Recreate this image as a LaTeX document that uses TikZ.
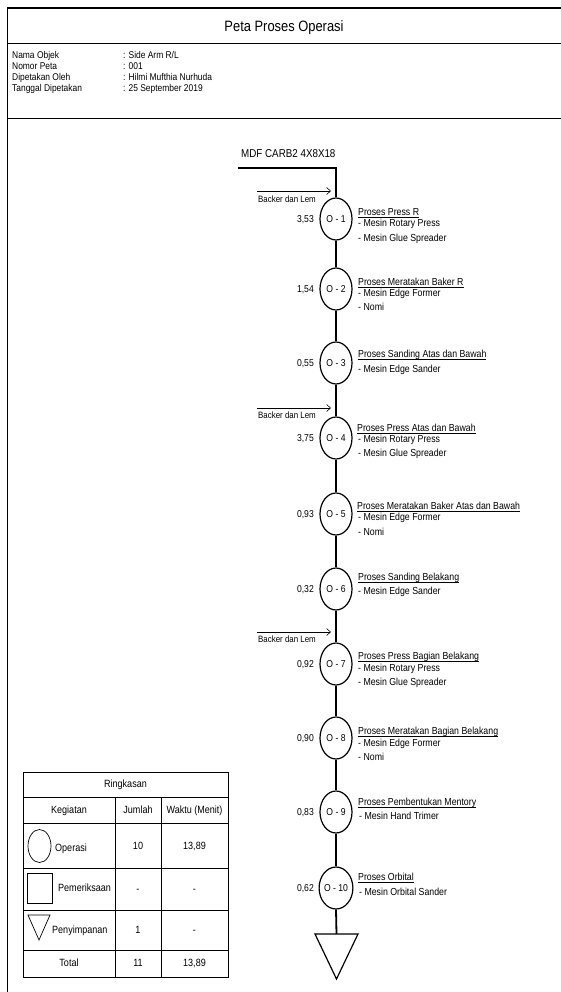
\documentclass[tikz,border=0pt]{standalone}
\usepackage{fontspec}
\setmainfont{Liberation Sans}[FakeStretch=0.86]
\usetikzlibrary{shapes.geometric,arrows.meta}
\begin{document}
\begin{tikzpicture}[x=1pt,y=-1pt,
  frame/.style={line width=0.8pt},
  op/.style={ellipse,draw,line width=1.2pt,minimum width=32pt,minimum height=42pt,inner sep=0pt,font=\fontsize{10}{12}\selectfont},
  flow/.style={line width=1.8pt},
  feed/.style={line width=0.6pt,-{Straight Barb[length=4pt,width=7pt]}},
  hdr/.style={anchor=base west,inner sep=0pt,yshift=-3.5pt,font=\fontsize{9.8}{11}\selectfont},
  ptxt/.style={anchor=base west,inner sep=0pt,yshift=-3.6pt,font=\fontsize{10.2}{12}\selectfont},
  tlab/.style={anchor=base east,inner sep=0pt,yshift=-3.6pt,font=\fontsize{10}{12}\selectfont},
  btxt/.style={anchor=base west,inner sep=0pt,yshift=-3.3pt,font=\fontsize{9.2}{11}\selectfont},
  cell/.style={anchor=base,inner sep=0pt,yshift=-3.8pt,font=\fontsize{10.5}{12}\selectfont},
  tab/.style={line width=0.7pt}]
\useasboundingbox (0,0) rectangle (561,992);
% frame
\draw[frame] (7,992) -- (7,8) -- (561,8);
\draw[line width=1pt] (7,8) -- (561,8);
\draw[line width=1pt] (7,44) -- (561,44);
\draw[frame] (7,118) -- (561,118);
\node[anchor=base,inner sep=0pt,yshift=-5.4pt,font=\fontsize{15}{18}\selectfont] (title) at (284,26) {Peta Proses Operasi};
% header
\node[hdr] (h1) at (12,55) {Nama Objek};
\node[hdr] (h2) at (12,66) {Nomor Peta};
\node[hdr] (h3) at (12,77) {Dipetakan Oleh};
\node[hdr] (h4) at (12,88) {Tanggal Dipetakan};
\node[hdr] (v1) at (123,55) {: Side Arm R/L};
\node[hdr] (v2) at (123,66) {: 001};
\node[hdr] (v3) at (123,77) {: Hilmi Mufthia Nurhuda};
\node[hdr] (v4) at (123,88) {: 25 September 2019};
% start material
\node[anchor=base west,inner sep=0pt,yshift=-4.1pt,font=\fontsize{11.4}{13}\selectfont] (mdf) at (241,153) {MDF CARB2 4X8X18};
\coordinate (start) at (238,168);
% operations
\node[op] (o1) at (336,219) {O - 1};
\node[op] (o2) at (336,289) {O - 2};
\node[op] (o3) at (336,363) {O - 3};
\node[op] (o4) at (336,438) {O - 4};
\node[op] (o5) at (336,514) {O - 5};
\node[op] (o6) at (336,589) {O - 6};
\node[op] (o7) at (336,664) {O - 7};
\node[op] (o8) at (336,738) {O - 8};
\node[op] (o9) at (336,812) {O - 9};
\node[op] (o10) at (336,888) {O - 10};
% storage triangle
\coordinate (st) at (336.5,934);
\coordinate (stl) at (315,934);
\coordinate (str) at (358,934);
\coordinate (stb) at (336.5,979);
\draw[line width=1.2pt,line join=miter] (stl) -- (str) -- (stb) -- cycle;
% flow lines
\draw[flow] (start) -| (o1.north);
\draw[flow] (o1) -- (o2);
\draw[flow] (o2) -- (o3);
\draw[flow] (o3) -- (o4);
\draw[flow] (o4) -- (o5);
\draw[flow] (o5) -- (o6);
\draw[flow] (o6) -- (o7);
\draw[flow] (o7) -- (o8);
\draw[flow] (o8) -- (o9);
\draw[flow] (o9) -- (o10);
\draw[flow] (o10.south) -- (st);
% feeds
\coordinate (b1s) at (257,191); \coordinate (b1e) at (331,191);
\coordinate (b2s) at (257,408); \coordinate (b2e) at (331,408);
\coordinate (b3s) at (257,632); \coordinate (b3e) at (331,632);
\draw[feed] (b1s) -- (b1e);
\draw[feed] (b2s) -- (b2e);
\draw[feed] (b3s) -- (b3e);
\node[btxt] (bl1) at (258,199) {Backer dan Lem};
\node[btxt] (bl2) at (258,415) {Backer dan Lem};
\node[btxt] (bl3) at (258,639) {Backer dan Lem};
% times
\node[tlab] (t1) at (314,219) {3,53};
\node[tlab] (t2) at (314,289) {1,54};
\node[tlab] (t3) at (314,363) {0,55};
\node[tlab] (t4) at (314,438) {3,75};
\node[tlab] (t5) at (314,514) {0,93};
\node[tlab] (t6) at (314,589) {0,32};
\node[tlab] (t7) at (314,664) {0,92};
\node[tlab] (t8) at (314,738) {0,90};
\node[tlab] (t9) at (314,812) {0,83};
\node[tlab] (t10) at (314,888) {0,62};
% descriptions
\node[ptxt] (p1) at (358,212) {\underline{\smash{Proses Press R}}};
\node[ptxt] (p1a) at (358,223) {- Mesin Rotary Press};
\node[ptxt] (p1b) at (358,238) {- Mesin Glue Spreader};
\node[ptxt] (p2) at (358,282) {\underline{\smash{Proses Meratakan Baker R}}};
\node[ptxt] (p2a) at (358,293) {- Mesin Edge Former};
\node[ptxt] (p2b) at (358,307) {- Nomi};
\node[ptxt] (p3) at (358,354) {\underline{\smash{Proses Sanding Atas dan Bawah}}};
\node[ptxt] (p3a) at (358,369) {- Mesin Edge Sander};
\node[ptxt] (p4) at (357,428) {\underline{\smash{Proses Press Atas dan Bawah}}};
\node[ptxt] (p4a) at (358,439) {- Mesin Rotary Press};
\node[ptxt] (p4b) at (358,453) {- Mesin Glue Spreader};
\node[ptxt] (p5) at (357,506) {\underline{\smash{Proses Meratakan Baker Atas dan Bawah}}};
\node[ptxt] (p5a) at (358,517) {- Mesin Edge Former};
\node[ptxt] (p5b) at (358,532) {- Nomi};
\node[ptxt] (p6) at (358,577) {\underline{\smash{Proses Sanding Belakang}}};
\node[ptxt] (p6a) at (358,591) {- Mesin Edge Sander};
\node[ptxt] (p7) at (358,656) {\underline{\smash{Proses Press Bagian Belakang}}};
\node[ptxt] (p7a) at (358,668) {- Mesin Rotary Press};
\node[ptxt] (p7b) at (358,682) {- Mesin Glue Spreader};
\node[ptxt] (p8) at (358,731) {\underline{\smash{Proses Meratakan Bagian Belakang}}};
\node[ptxt] (p8a) at (358,743) {- Mesin Edge Former};
\node[ptxt] (p8b) at (358,757) {- Nomi};
\node[ptxt] (p9) at (358,802) {\underline{\smash{Proses Pembentukan Mentory}}};
\node[ptxt] (p9a) at (359,816) {- Mesin Hand Trimer};
\node[ptxt] (p10) at (358,877) {\underline{\smash{Proses Orbital}}};
\node[ptxt] (p10a) at (359,892) {- Mesin Orbital Sander};
% summary table
\draw[tab] (23,772) rectangle (228,977);
\draw[tab] (23,797) -- (228,797);
\draw[tab] (23,823) -- (228,823);
\draw[tab] (23,868) -- (228,868);
\draw[tab] (23,910) -- (228,910);
\draw[tab] (23,950) -- (228,950);
\draw[tab] (115,797) -- (115,977);
\draw[tab] (161,797) -- (161,977);
\node[cell] (r0) at (125.5,784) {Ringkasan};
\node[cell] (k0) at (69,810) {Kegiatan};
\node[cell] (j0) at (138,810) {Jumlah};
\node[cell] (w0) at (194.5,810) {Waktu (Menit)};
\node[ellipse,draw,line width=0.7pt,minimum width=23pt,minimum height=33pt,inner sep=0pt] (sym1) at (39.5,846) {};
\node[cell,anchor=base west] (k1) at (55,848) {Operasi};
\node[cell] (j1) at (138,846) {10};
\node[cell] (w1) at (194.5,846) {13,89};
\node[rectangle,draw,line width=0.7pt,minimum width=25pt,minimum height=30pt,inner sep=0pt] (sym2) at (39.5,888) {};
\node[cell,anchor=base west] (k2) at (58,888) {Pemeriksaan};
\node[cell] (j2) at (138,889) {-};
\node[cell] (w2) at (194.5,889) {-};
\coordinate (sy3a) at (28,915); \coordinate (sy3b) at (50,915); \coordinate (sy3c) at (39,940);
\draw[line width=0.7pt] (sy3a) -- (sy3b) -- (sy3c) -- cycle;
\node[cell,anchor=base west] (k3) at (52,930) {Penyimpanan};
\node[cell] (j3) at (138,930) {1};
\node[cell] (w3) at (194.5,930) {-};
\node[cell] (k4) at (69,963) {Total};
\node[cell] (j4) at (138,963) {11};
\node[cell] (w4) at (194.5,963) {13,89};
\end{tikzpicture}
\end{document}
